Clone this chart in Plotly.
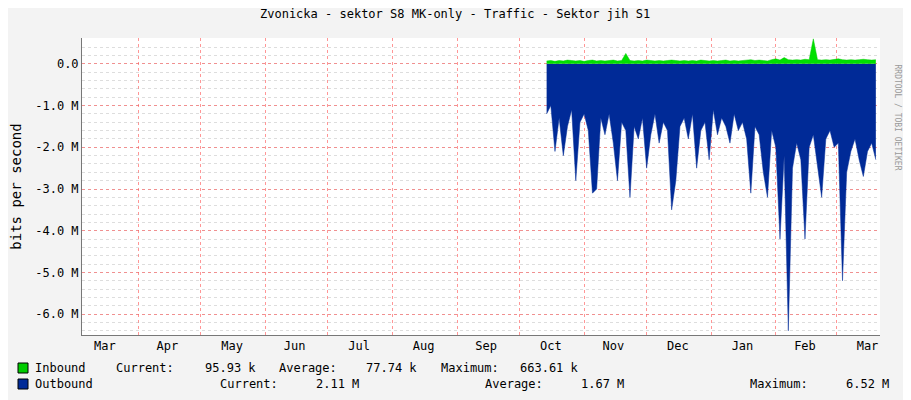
import plotly.graph_objects as go
import pandas as pd
import numpy as np

title = "Zvonicka - sektor S8 MK-only - Traffic - Sektor jih S1"
start = "2023-10-14"
# outbound (M bits/s, drawn negative), every 2 days
outbound = [-1.2,-1.0,-2.1,-1.3,-2.2,-1.5,-1.1,-2.8,-1.4,-1.2,-1.6,-3.1,-3.0,-1.3,-1.7,-1.2,-1.9,-2.8,-1.4,-1.6,
            -3.2,-1.5,-1.8,-1.3,-2.5,-1.7,-1.2,-1.9,-1.4,-1.6,-3.5,-2.8,-1.5,-1.3,-1.8,-1.2,-2.5,-1.6,-1.4,-2.3,
            -1.1,-1.7,-1.3,-1.5,-1.9,-1.2,-1.6,-1.4,-1.8,-3.1,-1.5,-1.7,-2.6,-3.2,-1.6,-2.0,-4.2,-2.2,-6.4,-2.5,
            -1.9,-2.3,-4.2,-2.0,-1.7,-2.4,-3.2,-1.8,-1.6,-2.0,-1.9,-5.2,-2.6,-2.1,-1.8,-2.3,-2.7,-2.1,-1.9,-2.3]
inbound = [0.07,0.08,0.06,0.08,0.07,0.09,0.08,0.07,0.08,0.06,0.08,0.09,0.07,0.08,0.07,0.08,0.09,0.07,0.08,0.25,
           0.08,0.07,0.08,0.07,0.09,0.08,0.07,0.08,0.07,0.08,0.09,0.08,0.07,0.08,0.07,0.08,0.07,0.09,0.08,0.07,
           0.08,0.07,0.08,0.09,0.07,0.08,0.07,0.08,0.09,0.10,0.08,0.09,0.08,0.07,0.10,0.12,0.09,0.15,0.10,0.09,
           0.10,0.09,0.11,0.10,0.60,0.10,0.09,0.10,0.09,0.11,0.12,0.10,0.09,0.10,0.09,0.10,0.11,0.10,0.09,0.10]
month_labels = ["Mar","Apr","May","Jun","Jul","Aug","Sep","Oct","Nov","Dec","Jan","Feb","Mar"]
month_mid = ["2023-03-16","2023-04-15","2023-05-16","2023-06-15","2023-07-16","2023-08-16","2023-09-15",
             "2023-10-16","2023-11-15","2023-12-16","2024-01-16","2024-02-15","2024-03-16"]
month_start = ["2023-04-01","2023-05-01","2023-06-01","2023-07-01","2023-08-01","2023-09-01","2023-10-01",
               "2023-11-01","2023-12-01","2024-01-01","2024-02-01","2024-03-01"]
ytick_vals = [0,-1,-2,-3,-4,-5,-6]
ytick_text = ["0.0","-1.0 M","-2.0 M","-3.0 M","-4.0 M","-5.0 M","-6.0 M"]
legend_names = [("Inbound", "#00cc00", 368), ("Outbound", "#002a97", 384)]
# (text, x px, y px)
legend_items = [("Current:", 116, 368), ("95.93 k", 205, 368), ("Average:", 279, 368), ("77.74 k", 366, 368),
                ("Maximum:", 441, 368), ("663.61 k", 520, 368),
                ("Current:", 220, 384), ("2.11 M", 316, 384), ("Average:", 485, 384), ("1.67 M", 581, 384),
                ("Maximum:", 750, 384), ("6.52 M", 846, 384)]

L, T, PW, PH = 82, 38, 798, 297  # plot box in screenshot px
def px(x): return (x - L) / PW
def py(y): return (T + PH - y) / PH

dates = pd.date_range(start, periods=len(outbound), freq="2D")
M = 1e6
font = "DejaVu Sans Mono"
fig = go.Figure()
fig.add_trace(go.Scatter(x=dates, y=np.array(outbound)*M, fill="tozeroy", mode="lines",
                         line=dict(color="#002a97", width=0.5), fillcolor="#002a97"))
fig.add_trace(go.Scatter(x=dates, y=np.array(inbound)*M, fill="tozeroy", mode="lines",
                         line=dict(color="#00cc00", width=0.5), fillcolor="#00e000"))
fig.update_layout(
    width=911, height=400, margin=dict(l=74, r=39, t=30, b=73, autoexpand=False),
    paper_bgcolor="#f3f3f3", plot_bgcolor="white", showlegend=False,
    font=dict(family=font, size=12, color="#000"),
    xaxis=dict(range=["2023-03-05","2024-03-22"], tickvals=month_mid, ticktext=month_labels, automargin=False,
               showgrid=False, ticks="", showline=True, linecolor="#777", zeroline=False,
               minor=dict(tickvals=month_start, showgrid=True, gridcolor="rgba(255,80,80,0.6)", griddash="dot", ticks=""),
               tickfont=dict(size=12)),
    yaxis=dict(range=[-6.5*M, 0.62*M], tickvals=[v*M for v in ytick_vals], ticktext=ytick_text, automargin=False,
               showgrid=True, gridcolor="rgba(255,80,80,0.55)", griddash="dot", zeroline=False,
               showline=True, linecolor="#777", ticks="",
               minor=dict(dtick=0.2*M, showgrid=True, gridcolor="rgba(170,170,170,0.4)", griddash="dot"),
               title=dict(text="bits per second", standoff=14), tickfont=dict(size=12)),
)
fig.add_annotation(xref="paper", yref="paper", x=px(455), y=py(14), text=title, showarrow=False,
                   xanchor="center", yanchor="middle", font=dict(size=12))
for name, color, y in legend_names:
    fig.add_shape(type="rect", xref="paper", yref="paper", x0=px(18), x1=px(28),
                  y0=py(y+5), y1=py(y-5), fillcolor=color, line=dict(color="#000", width=1))
    fig.add_annotation(xref="paper", yref="paper", x=px(33), y=py(y), xanchor="left", yanchor="middle",
                       text=name, showarrow=False, font=dict(size=12))
for text, x, y in legend_items:
    fig.add_annotation(xref="paper", yref="paper", x=px(x), y=py(y), xanchor="left", yanchor="middle",
                       text=text, showarrow=False, font=dict(size=12), xshift=-2)
fig.add_annotation(xref="paper", yref="paper", x=px(903), y=py(62), text="RRDTOOL / TOBI OETIKER", textangle=90,
                   showarrow=False, font=dict(size=8, color="#999"))
fig.write_html("out.html")
